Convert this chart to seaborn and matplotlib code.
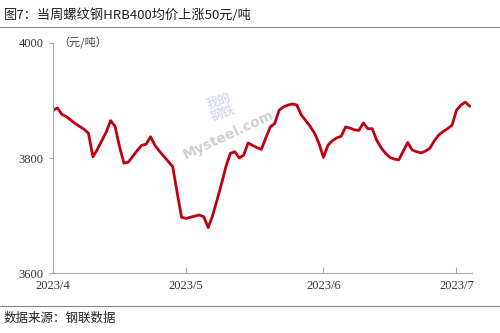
import matplotlib
matplotlib.use("Agg")
import matplotlib.pyplot as plt
import seaborn as sns
import pandas as pd

title = "图7：当周螺纹钢HRB400均价上涨50元/吨"
source = "数据来源：钢联数据"
unit = "（元/吨）"

start_date = "2023-04-01"
prices = [
    3883, 3887, 3876, 3872, 3866, 3860, 3855, 3850, 3843, 3802,  # Apr 1-10
    3815, 3830, 3845, 3865, 3855, 3820, 3791, 3793, 3803, 3813,  # Apr 11-20
    3822, 3824, 3837, 3822, 3812, 3803, 3794, 3785, 3740, 3697,  # Apr 21-30
    3695, 3697, 3699, 3701, 3698, 3679, 3700, 3727, 3755, 3785,  # May 1-10
    3808, 3811, 3800, 3805, 3826, 3822, 3818, 3815, 3835, 3854,  # May 11-20
    3860, 3883, 3889, 3892, 3894, 3892, 3875, 3865, 3855, 3843, 3825,  # May 21-31
    3801, 3822, 3830, 3835, 3838, 3854, 3852, 3849, 3848, 3861,  # Jun 1-10
    3851, 3851, 3831, 3818, 3808, 3801, 3798, 3797, 3812, 3827,  # Jun 11-20
    3814, 3811, 3809, 3812, 3817, 3830, 3840, 3846, 3851, 3857,  # Jun 21-30
    3883, 3892, 3897, 3890,                                      # Jul 1-4
]
tick_dates = ["2023-04-01", "2023-05-01", "2023-06-01", "2023-07-01"]
tick_labels = ["2023/4", "2023/5", "2023/6", "2023/7"]
y_ticks = [3600, 3800, 4000]

df = pd.DataFrame({
    "date": pd.date_range(start_date, periods=len(prices), freq="D"),
    "price": prices,
})

sns.set_theme(style="white")
plt.rcParams["font.family"] = ["Noto Sans CJK SC", "DejaVu Sans"]

fig = plt.figure(figsize=(5, 3.33), dpi=100)
ax = fig.add_axes([0.106, 0.180, 0.838, 0.691])

sns.lineplot(data=df, x="date", y="price", ax=ax, color="#C00010",
             linewidth=2.0, solid_joinstyle="round", solid_capstyle="round")

ax.set_ylim(3600, 4000)
ax.set_xlim(pd.Timestamp("2023-04-01"), pd.Timestamp("2023-07-04 12:00"))
ax.set_yticks(y_ticks)
ax.set_yticklabels([str(v) for v in y_ticks], family="Liberation Serif", fontsize=9, color="#333333")
ax.set_xticks([pd.Timestamp(d) for d in tick_dates])
ax.set_xticklabels(tick_labels, family="Liberation Serif", fontsize=9, color="#333333")
ax.set_xlabel("")
ax.set_ylabel("")

for s in ["top", "right"]:
    ax.spines[s].set_visible(False)
for s in ["left", "bottom"]:
    ax.spines[s].set_color("#AAAAAA")
    ax.spines[s].set_linewidth(0.8)

ax.tick_params(axis="y", direction="out", length=3, width=0.8, color="#AAAAAA", pad=4, left=True)
ax.tick_params(axis="x", direction="in", length=4, width=0.8, color="#AAAAAA", pad=5, bottom=True)

ax.text(0.012, 1.0, unit, transform=ax.transAxes, fontsize=8, color="#444444",
        va="center", ha="left")

# watermark
ax.text(0.40, 0.72, "我的\n钢铁", transform=ax.transAxes, fontsize=9, color="#9FB0D0",
        alpha=0.6, rotation=20, ha="center", va="center", linespacing=0.95)
ax.text(0.42, 0.60, "Mysteel.com", transform=ax.transAxes, fontsize=10, color="#BBBBBB",
        alpha=0.7, rotation=25, ha="center", va="center", fontweight="bold",
        family="DejaVu Sans")

fig.text(0.008, 0.953, title, fontsize=9.5, color="#222222", ha="left", va="center",
         fontweight="medium")
fig.add_artist(plt.Line2D([0, 1], [0.918, 0.918], transform=fig.transFigure,
                          color="#888888", linewidth=0.8))
fig.add_artist(plt.Line2D([0, 1], [0.081, 0.081], transform=fig.transFigure,
                          color="#888888", linewidth=0.8))
fig.text(0.008, 0.045, source, fontsize=9, color="#222222", ha="left", va="center")

fig.savefig("out.png", dpi=100)
